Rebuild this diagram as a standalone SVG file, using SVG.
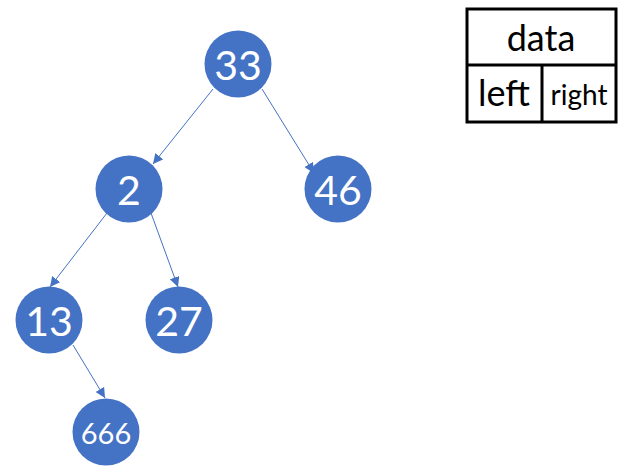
<svg xmlns="http://www.w3.org/2000/svg" width="627" height="468" viewBox="0 0 627 468">
<style>
.node{fill:#4472C4;}
.lbl{fill:#fff;font-family:Lato,"Liberation Sans",sans-serif;text-anchor:middle;dominant-baseline:central;font-size:41px;}
.edge{stroke:#4472C4;stroke-width:1;fill:none;marker-end:url(#ah);}
.tb{fill:none;stroke:#000;stroke-width:3;}
.tt{fill:#000;font-family:Lato,"Liberation Sans",sans-serif;text-anchor:middle;dominant-baseline:central;}
</style>
<defs>
<marker id="ah" viewBox="0 0 10 10" refX="10" refY="5" markerWidth="10" markerHeight="10" markerUnits="userSpaceOnUse" orient="auto">
<path d="M0,0 L10,5 L0,10 Z" fill="#4472C4"/>
</marker>
</defs>
<rect width="627" height="468" fill="#fff"/>
<g id="connectors">
<line class="edge" x1="213" y1="89" x2="153" y2="164"/>
<line class="edge" x1="262" y1="89" x2="314" y2="173"/>
<line class="edge" x1="107" y1="213" x2="50" y2="287"/>
<line class="edge" x1="151" y1="213" x2="178" y2="287"/>
<line class="edge" x1="73" y1="345" x2="105" y2="398"/>
</g>
<g id="n33"><circle class="node" cx="238" cy="64" r="33.5"/><text class="lbl" x="238" y="64">33</text></g>
<g id="n2"><circle class="node" cx="129" cy="189" r="33.5"/><text class="lbl" x="129" y="189">2</text></g>
<g id="n46"><circle class="node" cx="338" cy="189" r="33.5"/><text class="lbl" x="338" y="189">46</text></g>
<g id="n13"><circle class="node" cx="49" cy="320" r="33.5"/><text class="lbl" x="49" y="320">13</text></g>
<g id="n27"><circle class="node" cx="179" cy="320" r="33.5"/><text class="lbl" x="179" y="320">27</text></g>
<g id="n666"><circle class="node" cx="106" cy="432" r="33.5"/><text class="lbl" x="106" y="432" style="font-size:29px">666</text></g>
<g id="legend">
<rect class="tb" x="467" y="9" width="149" height="113"/>
<line class="tb" x1="467" y1="65" x2="616" y2="65"/>
<line class="tb" x1="542" y1="65" x2="542" y2="122"/>
<text class="tt" x="541" y="37" style="font-size:36px">data</text>
<text class="tt" x="504" y="92" style="font-size:36px">left</text>
<text class="tt" x="579" y="94" style="font-size:28px">right</text>
</g>
</svg>
